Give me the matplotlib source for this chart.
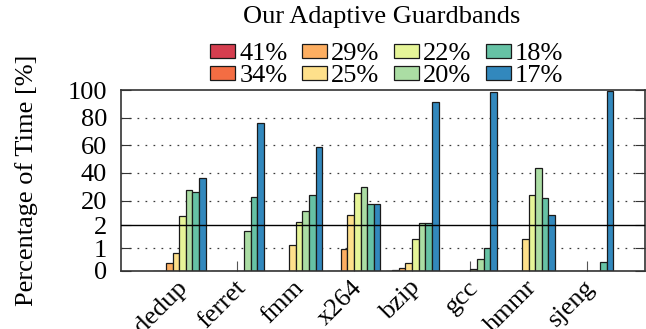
import numpy as np
import matplotlib
matplotlib.use("Agg")
import matplotlib.pyplot as plt
from matplotlib.transforms import ScaledTranslation

plt.rcParams["font.family"] = ["Liberation Serif", "DejaVu Serif"]
plt.rcParams["mathtext.fontset"] = "stix"

benchmarks = ["dedup", "ferret", "fmm", "x264", "bzip", "gcc", "hmmr", "sjeng"]
guardbands = ["41%", "34%", "29%", "25%", "22%", "20%", "18%", "17%"]
colors = ["#d53e4f", "#f46d43", "#fdae61", "#fee08b",
          "#e6f598", "#abdda4", "#66c2a5", "#3288bd"]

# Percentage of execution time spent at each guardband, per benchmark
gb41 = [0, 0, 0, 0, 0, 0, 0, 0]
gb34 = [0, 0, 0, 0, 0.05, 0, 0, 0]
gb29 = [0.32, 0, 0, 0.95, 0.12, 0, 0, 0]
gb25 = [0.76, 0, 1.14, 9.5, 0.36, 0, 1.39, 0]
gb22 = [9.0, 0, 4.2, 25.4, 1.38, 0.08, 23.7, 0]
gb20 = [27.4, 1.76, 12.6, 29.5, 3.45, 0.51, 43.7, 0]
gb18 = [26.3, 22.3, 24.2, 17.2, 3.7, 1.0, 22.0, 0.38]
gb17 = [36.0, 75.9, 58.5, 17.6, 91.5, 98.5, 9.2, 99.6]
series = [gb41, gb34, gb29, gb25, gb22, gb20, gb18, gb17]

y_ticks = [0, 1, 2, 20, 40, 60, 80, 100]
dotted_levels = [1, 20, 40, 60, 80]
split_level = 2

FS = 19

# Piecewise-linear y axis: stretched below the split level
K = 16.4


def fwd(y):
    y = np.asarray(y, dtype=float)
    return np.where(y <= split_level, y * K, split_level * K + (y - split_level))


def inv(t):
    t = np.asarray(t, dtype=float)
    return np.where(t <= split_level * K, t / K, (t - split_level * K) + split_level)


fig = plt.figure(figsize=(6.46, 3.29), dpi=100)
ax = fig.add_axes([0.1873, 0.1772, 0.8112, 0.5492])
ax.set_yscale("function", functions=(fwd, inv))
ax.set_ylim(0, 100)

x = np.arange(len(benchmarks))
w = 0.114
handles = []
for i, (vals, c) in enumerate(zip(series, colors)):
    b = ax.bar(x + (i - 3.5) * w, vals, width=w, color=c,
               edgecolor="#1a1a1a", linewidth=0.9, zorder=2)
    handles.append(b)

for lv in dotted_levels:
    ax.axhline(lv, color="#3a3a3a", lw=0.9, ls=(0, (1.4, 5.0)), zorder=1)
ax.axhline(split_level, color="black", lw=1.0, zorder=3)

ax.set_xlim(-1, 8)
ax.set_xticks(x)
ax.set_xticklabels(benchmarks, rotation=45, ha="right", va="top",
                   rotation_mode="anchor")
ax.set_yticks(y_ticks)
ax.set_yticklabels([str(v) for v in y_ticks])
ax.yaxis.set_minor_locator(matplotlib.ticker.NullLocator())

ax.tick_params(axis="y", direction="in", length=7.5, width=0.8, right=True,
               labelsize=FS, pad=10, color="#333333")
ax.tick_params(axis="x", direction="in", length=7.5, width=0.8,
               labelsize=FS, pad=4, color="#555555")
shift = ScaledTranslation(-3.0 / 100, 0, fig.dpi_scale_trans)
for lab in ax.get_xticklabels():
    lab.set_transform(lab.get_transform() + shift)

for s in ax.spines.values():
    s.set_color("#333333")
    s.set_linewidth(1.2)

ax.set_ylabel("Percentage of Time [%]", fontsize=FS)
ax.yaxis.set_label_coords(-0.158, 0.5)

ax.legend(handles, guardbands, ncol=4,
          loc="lower center", bbox_to_anchor=(0.507, 1.0), frameon=False,
          fontsize=FS, handlelength=0.95, handleheight=0.45,
          handletextpad=0.15, columnspacing=0.55, labelspacing=0.0,
          borderpad=0, borderaxespad=0.1)
fig.text(381.5 / 646, 1 - 17 / 329, "Our Adaptive Guardbands",
         ha="center", va="center", fontsize=FS)

fig.savefig("out.png", dpi=100)
